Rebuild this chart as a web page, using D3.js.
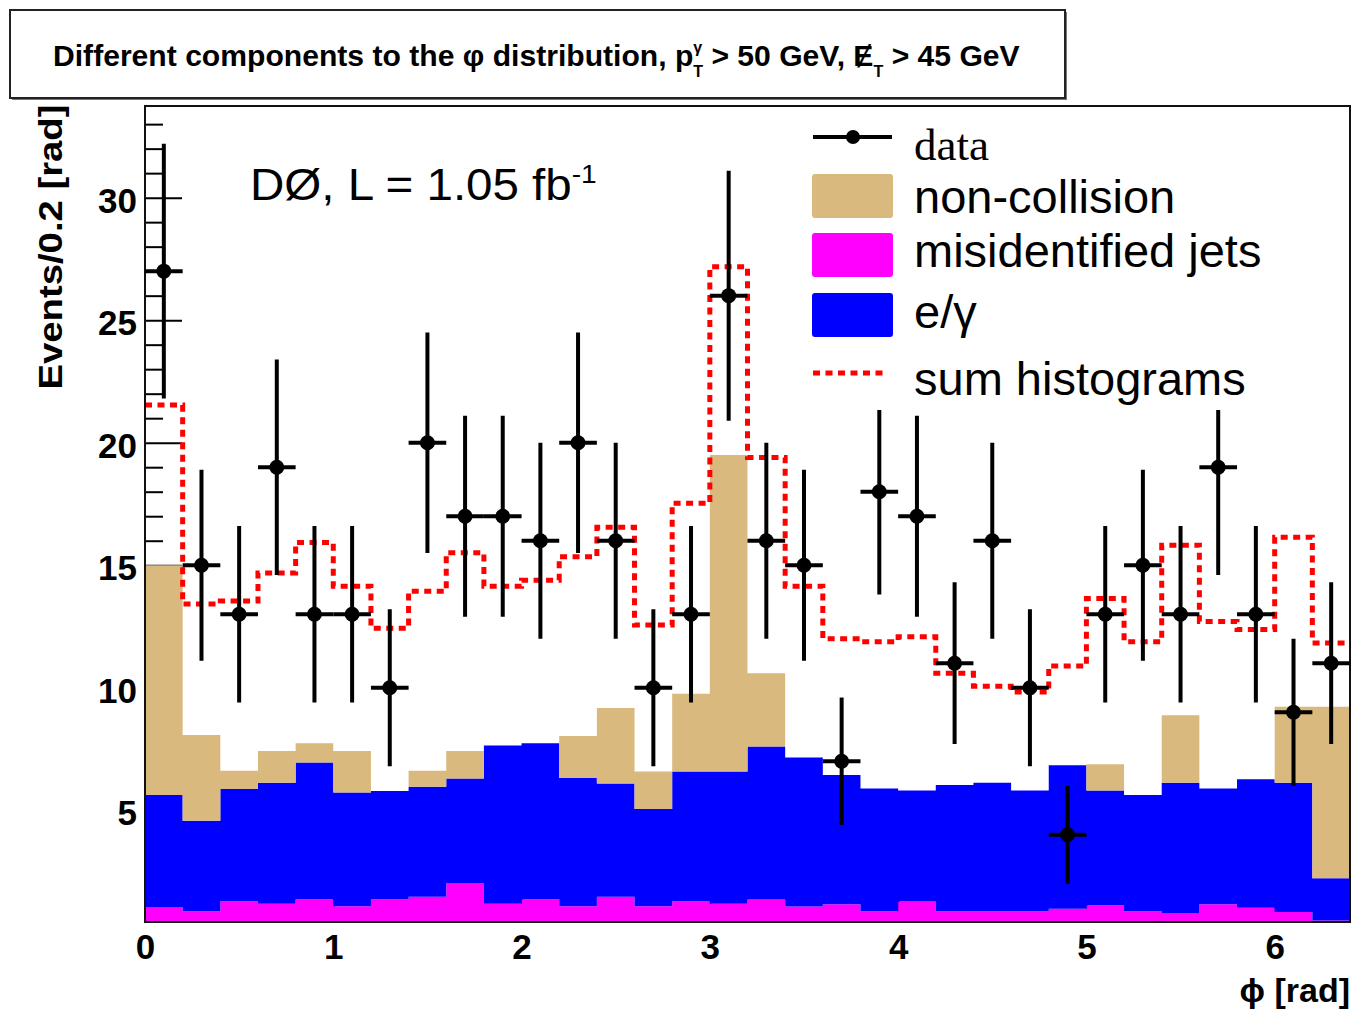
<!DOCTYPE html>
<html><head><meta charset="utf-8">
<script src="https://cdn.jsdelivr.net/npm/d3@7"></script>
<style>body{margin:0;background:#fff}svg{display:block}</style>
</head><body>
<svg id="c" width="1353" height="1011"></svg>
<script>
// ---- data ----
const phiCenters = [0.1,0.3,0.5,0.7,0.9,1.1,1.3,1.5,1.7,1.9,2.1,2.3,2.5,2.7,2.9,3.1,3.3,3.5,3.7,3.9,4.1,4.3,4.5,4.7,4.9,5.1,5.3,5.5,5.7,5.9,6.1,6.3];
const binWidth = 0.2;
const dataCounts = [27,15,13,19,13,13,10,20,17,17,16,20,16,10,13,26,16,15,7,18,17,11,16,10,4,13,15,13,19,13,9,11];
const dataErrors = [5.2,3.9,3.6,4.4,3.6,3.6,3.2,4.5,4.1,4.1,4.0,4.5,4.0,3.2,3.6,5.1,4.0,3.9,2.6,4.2,4.1,3.3,4.0,3.2,2.0,3.6,3.9,3.6,4.4,3.6,3.0,3.3];
const misidJets = [1.05,0.88,1.29,1.18,1.37,1.08,1.37,1.47,2.03,1.18,1.37,1.08,1.47,1.08,1.29,1.18,1.36,1.07,1.16,0.88,1.28,0.88,0.88,0.88,0.98,1.12,0.88,0.81,1.16,1.02,0.85,0.5];
const eGamma = [4.57,3.69,4.58,4.94,5.58,4.64,4.42,4.49,4.27,6.46,6.36,5.24,4.62,3.97,5.29,5.40,6.24,6.08,5.28,5.01,4.53,5.15,5.24,4.93,5.86,4.69,4.74,5.31,4.73,5.25,5.27,1.73];
const nonCollision = [9.38,3.50,0.74,1.30,0.78,1.70,0,0.65,1.12,0,0,1.71,3.08,1.53,3.17,12.92,2.99,0,0,0,0,0,0,0,0,1.07,0,2.76,0,0,3.10,6.99];
const sumHist = [21.54,13.42,13.54,14.68,15.93,14.14,12.43,13.94,15.51,14.14,14.39,15.35,16.55,12.56,17.53,27.18,19.40,14.14,12.0,11.88,12.08,10.59,10.06,9.83,10.89,13.64,11.88,15.81,12.70,12.38,16.14,11.83];
const xTicks = [0,1,2,3,4,5,6];
const yMajorTicks = [5,10,15,20,25,30];
const yMinorTicks = [1,2,3,4,6,7,8,9,11,12,13,14,16,17,18,19,21,22,23,24,26,27,28,29,31,32,33];
const legendItems = ["data","non-collision","misidentified jets","e/γ","sum histograms"];

// ---- layout ----
const svg = d3.select("#c");
const FX0 = 145, FX1 = 1350, FY0 = 922, FY1 = 106;
const x = d3.scaleLinear().domain([0, 6.4]).range([FX0, FX1]);
const y = d3.scaleLinear().domain([0.44, 33.74]).range([FY0, FY1]);
const sans = "'Liberation Sans', Arial, Helvetica, sans-serif";
const serif = "'Liberation Serif', 'Times New Roman', serif";
const colors = {misid: "#ff00ff", eg: "#0000ff", nc: "#d9b97e"};

svg.append("rect").attr("width", 1353).attr("height", 1011).attr("fill", "#fff");

// title box
svg.append("rect").attr("x", 12).attr("y", 12).attr("width", 1055).attr("height", 88).attr("fill", "#777");
svg.append("rect").attr("x", 10).attr("y", 10).attr("width", 1055).attr("height", 88)
  .attr("fill", "#fff").attr("stroke", "#222").attr("stroke-width", 2);
const tt = svg.append("text").attr("font-family", sans).attr("font-weight", "bold").attr("font-size", 30).attr("fill", "#000");
tt.append("tspan").text("Different components to the φ distribution, p");
tt.append("tspan").attr("font-size", 16).attr("dy", -13).text("γ");
tt.append("tspan").attr("font-size", 16).attr("dx", -9).attr("dy", 24).text("T");
tt.append("tspan").attr("dy", -11).text(" > 50 GeV, Ɇ");
tt.append("tspan").attr("font-size", 16).attr("dy", 11).text("T");
tt.append("tspan").attr("dy", -11).text(" > 45 GeV");
const tw = tt.node().getBBox().width;
tt.attr("transform", `translate(53,66) scale(${967 / tw},1)`);

// plot area background
svg.append("rect").attr("x", FX0).attr("y", FY1).attr("width", FX1 - FX0).attr("height", FY0 - FY1).attr("fill", "#fff");

// axes (ticks drawn before histograms so that fills cover them)
const gMinor = svg.append("g").attr("transform", `translate(${FX0},0)`)
  .call(d3.axisLeft(y).tickValues(yMinorTicks).tickSize(-18).tickFormat(""));
const gMajor = svg.append("g").attr("transform", `translate(${FX0},0)`)
  .call(d3.axisLeft(y).tickValues(yMajorTicks).tickSize(-37).tickPadding(8).tickFormat(d3.format("d")));
const gX = svg.append("g").attr("transform", `translate(0,${FY0})`)
  .call(d3.axisBottom(x).tickValues(xTicks).tickSize(-37).tickPadding(12).tickFormat(d3.format("d")));
[gMinor, gMajor, gX].forEach(g => {
  g.select(".domain").remove();
  g.selectAll(".tick line").attr("stroke", "#000").attr("stroke-width", 2);
  g.selectAll(".tick text").attr("font-family", sans).attr("font-weight", "bold").attr("font-size", 35).attr("fill", "#000");
});
gMajor.selectAll(".tick text").attr("dy", "0.42em");

// clip
svg.append("clipPath").attr("id", "frameClip").append("rect")
  .attr("x", FX0).attr("y", FY1).attr("width", FX1 - FX0).attr("height", FY0 - FY1);

// stacked histograms
const rows = phiCenters.map((c, i) => ({lo: c - binWidth / 2, misid: misidJets[i], eg: eGamma[i], nc: nonCollision[i]}));
const layers = d3.stack().keys(["misid", "eg", "nc"])(rows);
const area = d3.area().curve(d3.curveStepAfter).x(p => x(p.x)).y0(p => y(p.y0)).y1(p => y(p.y1));
const hg = svg.append("g").attr("clip-path", "url(#frameClip)");
layers.forEach(layer => {
  const pts = layer.map((s, i) => ({x: rows[i].lo, y0: s[0], y1: s[1]}));
  const last = layer[layer.length - 1];
  pts.push({x: rows[rows.length - 1].lo + binWidth, y0: last[0], y1: last[1]});
  hg.append("path").attr("d", area(pts)).attr("fill", colors[layer.key]);
});

// sum histogram (dotted red)
const sumPts = phiCenters.map((c, i) => ({x: c - binWidth / 2, v: sumHist[i]}));
sumPts.push({x: phiCenters[phiCenters.length - 1] + binWidth / 2, v: sumHist[sumHist.length - 1]});
svg.append("path").attr("d", d3.line().curve(d3.curveStepAfter).x(p => x(p.x)).y(p => y(p.v))(sumPts))
  .attr("fill", "none").attr("stroke", "#ff0000").attr("stroke-width", 5).attr("stroke-dasharray", "7,5.5");

// frame
svg.append("rect").attr("x", FX0).attr("y", FY1).attr("width", FX1 - FX0).attr("height", FY0 - FY1)
  .attr("fill", "none").attr("stroke", "#111").attr("stroke-width", 2);

// data points
const pts = phiCenters.map((c, i) => ({c, n: dataCounts[i], e: dataErrors[i]}));
const dg = svg.append("g");
dg.selectAll("line.v").data(pts).join("line").attr("class", "v")
  .attr("x1", d => x(d.c)).attr("x2", d => x(d.c)).attr("y1", d => y(d.n + d.e)).attr("y2", d => y(d.n - d.e))
  .attr("stroke", "#000").attr("stroke-width", 4);
dg.selectAll("line.h").data(pts).join("line").attr("class", "h")
  .attr("x1", d => x(d.c - binWidth / 2)).attr("x2", d => x(d.c + binWidth / 2)).attr("y1", d => y(d.n)).attr("y2", d => y(d.n))
  .attr("stroke", "#000").attr("stroke-width", 4);
dg.selectAll("circle").data(pts).join("circle")
  .attr("cx", d => x(d.c)).attr("cy", d => y(d.n)).attr("r", 7.5).attr("fill", "#000");

// axis titles
svg.append("text").attr("transform", "translate(62,247) rotate(-90)").attr("text-anchor", "middle")
  .attr("font-family", sans).attr("font-weight", "bold").attr("font-size", 34)
  .attr("textLength", 285).attr("lengthAdjust", "spacingAndGlyphs").text("Events/0.2 [rad]");
svg.append("text").attr("x", 1350).attr("y", 1002).attr("text-anchor", "end")
  .attr("font-family", sans).attr("font-weight", "bold").attr("font-size", 34).text("ϕ [rad]");

// experiment label
const dl = svg.append("text").attr("transform", "translate(250,200) scale(1.08,1)").attr("font-family", sans).attr("font-size", 44);
dl.append("tspan").text("DØ, L = 1.05 fb");
dl.append("tspan").attr("font-size", 26).attr("dy", -17).text("-1");

// legend (white box covers what lies under it)
const lg = svg.append("g");
lg.append("rect").attr("x", 800).attr("y", 108).attr("width", 549).attr("height", 302).attr("fill", "#fff");
lg.append("line").attr("x1", 813).attr("x2", 892).attr("y1", 137).attr("y2", 137).attr("stroke", "#000").attr("stroke-width", 4);
lg.append("circle").attr("cx", 853).attr("cy", 137).attr("r", 7).attr("fill", "#000");
lg.append("text").attr("x", 914).attr("y", 160).attr("font-family", serif).attr("font-size", 45).text(legendItems[0]);
const boxes = [{key: "nc", y: 174, label: legendItems[1], by: 213}, {key: "misid", y: 233, label: legendItems[2], by: 267}, {key: "eg", y: 293, label: legendItems[3], by: 328}];
boxes.forEach(b => {
  lg.append("rect").attr("x", 812).attr("y", b.y).attr("width", 81).attr("height", 44).attr("rx", 3).attr("fill", colors[b.key]);
  lg.append("text").attr("x", 914).attr("y", b.by).attr("font-family", sans).attr("font-size", 47).text(b.label);
});
lg.append("line").attr("x1", 813).attr("x2", 888).attr("y1", 373).attr("y2", 373)
  .attr("stroke", "#ff0000").attr("stroke-width", 5).attr("stroke-dasharray", "7,5.5");
lg.append("text").attr("x", 914).attr("y", 395).attr("font-family", sans).attr("font-size", 47).text(legendItems[4]);
</script>
</body></html>
